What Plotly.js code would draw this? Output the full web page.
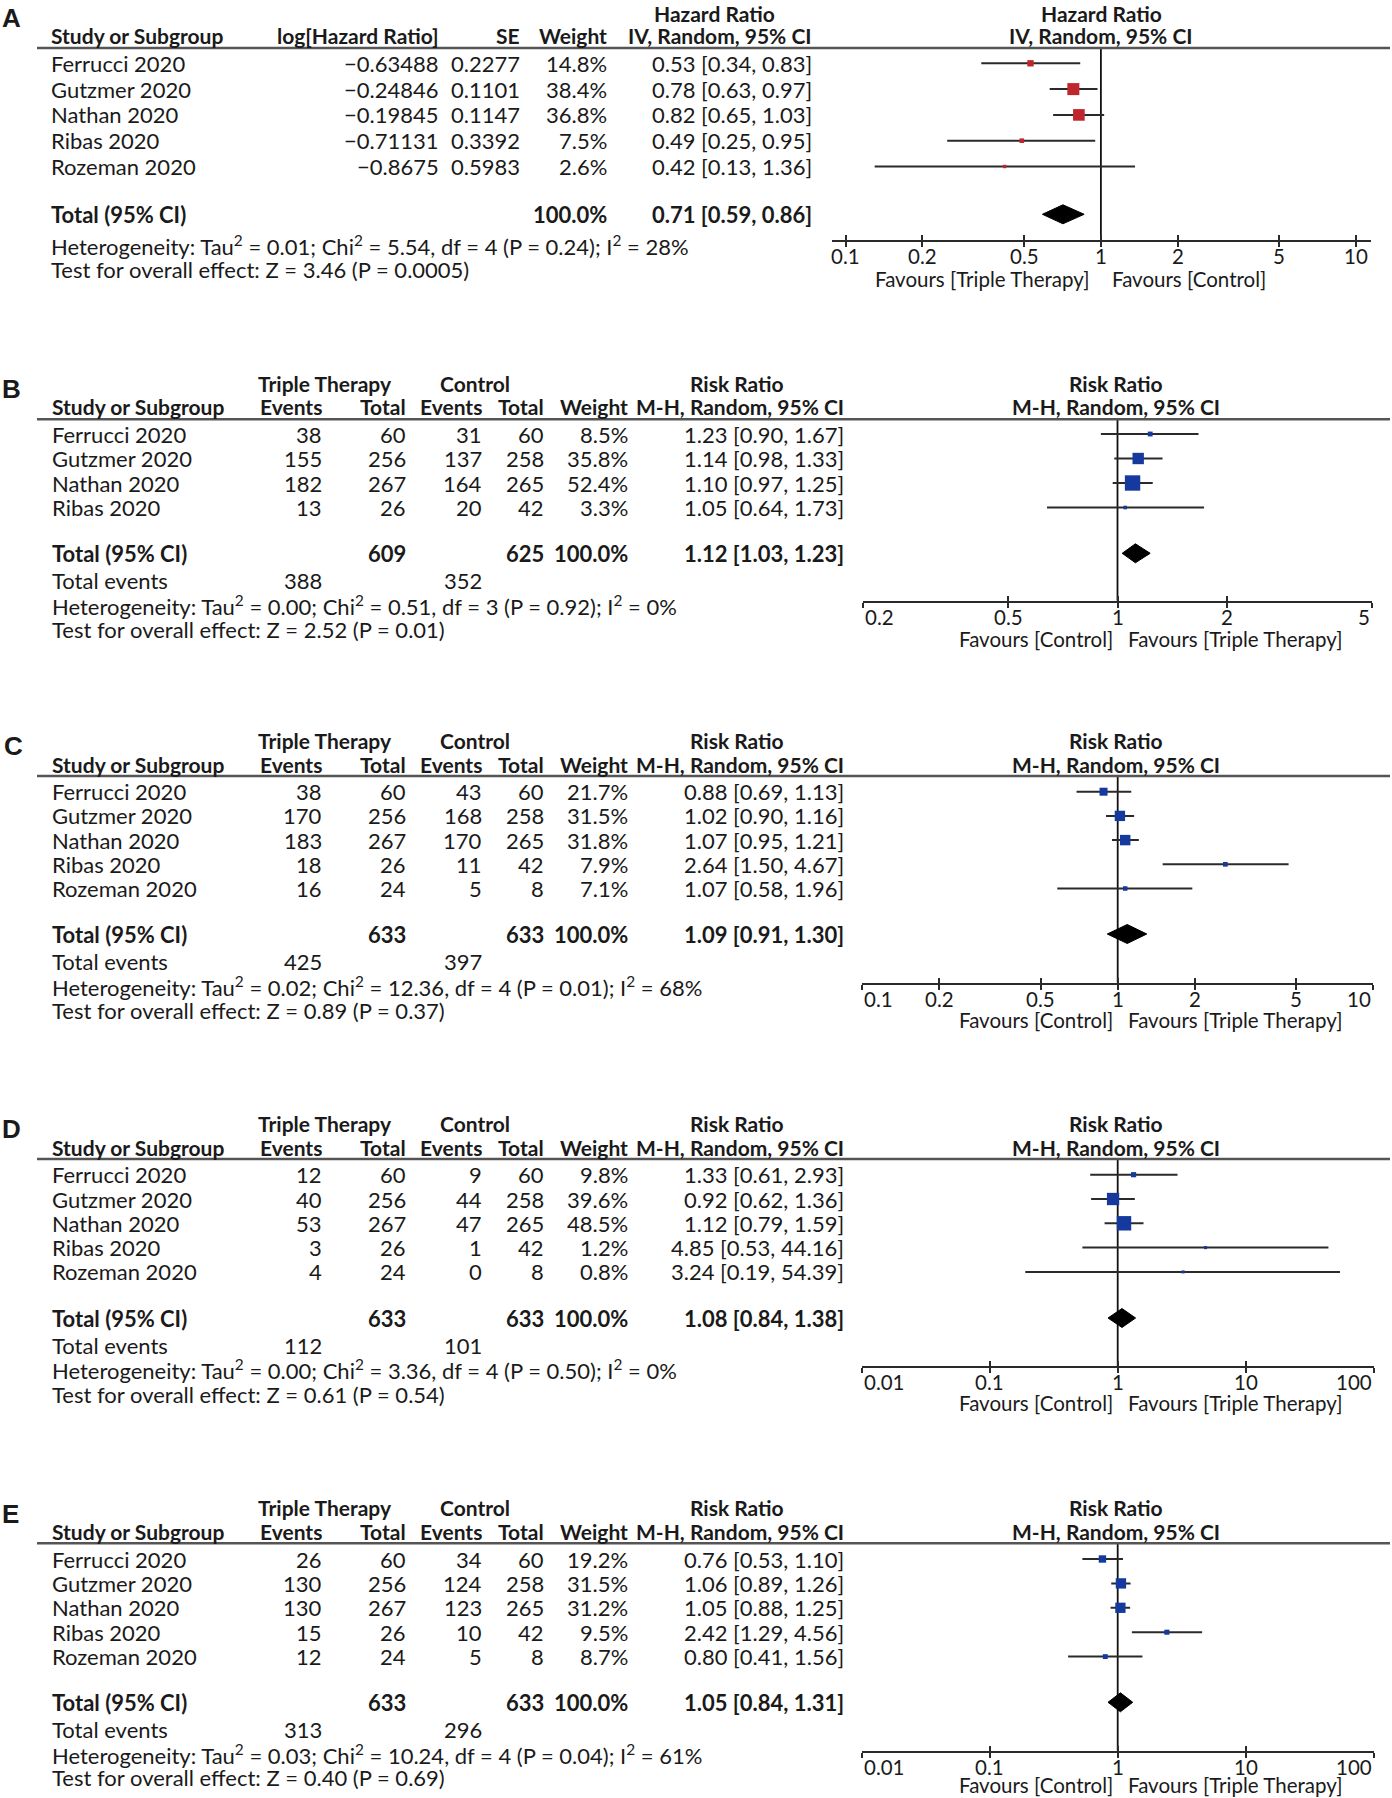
<!DOCTYPE html>
<html><head><meta charset="utf-8">
<script src="https://cdn.plot.ly/plotly-3.0.1.min.js"></script>
<style>html,body{margin:0;padding:0;background:#fff}</style>
</head><body><div id="chart" style="width:1392px;height:1798px"></div>
<script>
// ================= DATA =================
const studies5 = ["Ferrucci 2020","Gutzmer 2020","Nathan 2020","Ribas 2020","Rozeman 2020"];
const studies4 = ["Ferrucci 2020","Gutzmer 2020","Nathan 2020","Ribas 2020"];

// Panel A (Hazard Ratio, IV random)
const logHR_A = ["\u22120.63488","\u22120.24846","\u22120.19845","\u22120.71131","\u22120.8675"];
const se_A = ["0.2277","0.1101","0.1147","0.3392","0.5983"];
const weight_A = [14.8,38.4,36.8,7.5,2.6];
const est_A = [0.53,0.78,0.82,0.49,0.42];
const lo_A = [0.34,0.63,0.65,0.25,0.13];
const hi_A = [0.83,0.97,1.03,0.95,1.36];
const total_A = [0.71,0.59,0.86];
const het_A = "Heterogeneity: Tau<sup>2</sup> = 0.01; Chi<sup>2</sup> = 5.54, df = 4 (P = 0.24); I<sup>2</sup> = 28%";
const test_A = "Test for overall effect: Z = 3.46 (P = 0.0005)";
const ticks_A = [0.1,0.2,0.5,1,2,5,10];

// Panel B
const evTx_B = [38,155,182,13], totTx_B = [60,256,267,26];
const evCt_B = [31,137,164,20], totCt_B = [60,258,265,42];
const weight_B = [8.5,35.8,52.4,3.3];
const est_B = [1.23,1.14,1.10,1.05], lo_B = [0.90,0.98,0.97,0.64], hi_B = [1.67,1.33,1.25,1.73];
const total_B = [1.12,1.03,1.23], n_B = [609,625], events_B = [388,352];
const het_B = "Heterogeneity: Tau<sup>2</sup> = 0.00; Chi<sup>2</sup> = 0.51, df = 3 (P = 0.92); I<sup>2</sup> = 0%";
const test_B = "Test for overall effect: Z = 2.52 (P = 0.01)";
const ticks_B = [0.2,0.5,1,2,5];

// Panel C
const evTx_C = [38,170,183,18,16], totTx_C = [60,256,267,26,24];
const evCt_C = [43,168,170,11,5], totCt_C = [60,258,265,42,8];
const weight_C = [21.7,31.5,31.8,7.9,7.1];
const est_C = [0.88,1.02,1.07,2.64,1.07], lo_C = [0.69,0.90,0.95,1.50,0.58], hi_C = [1.13,1.16,1.21,4.67,1.96];
const total_C = [1.09,0.91,1.30], n_C = [633,633], events_C = [425,397];
const het_C = "Heterogeneity: Tau<sup>2</sup> = 0.02; Chi<sup>2</sup> = 12.36, df = 4 (P = 0.01); I<sup>2</sup> = 68%";
const test_C = "Test for overall effect: Z = 0.89 (P = 0.37)";
const ticks_C = [0.1,0.2,0.5,1,2,5,10];

// Panel D
const evTx_D = [12,40,53,3,4], totTx_D = [60,256,267,26,24];
const evCt_D = [9,44,47,1,0], totCt_D = [60,258,265,42,8];
const weight_D = [9.8,39.6,48.5,1.2,0.8];
const est_D = [1.33,0.92,1.12,4.85,3.24], lo_D = [0.61,0.62,0.79,0.53,0.19], hi_D = [2.93,1.36,1.59,44.16,54.39];
const total_D = [1.08,0.84,1.38], n_D = [633,633], events_D = [112,101];
const het_D = "Heterogeneity: Tau<sup>2</sup> = 0.00; Chi<sup>2</sup> = 3.36, df = 4 (P = 0.50); I<sup>2</sup> = 0%";
const test_D = "Test for overall effect: Z = 0.61 (P = 0.54)";
const ticks_D = [0.01,0.1,1,10,100];

// Panel E
const evTx_E = [26,130,130,15,12], totTx_E = [60,256,267,26,24];
const evCt_E = [34,124,123,10,5], totCt_E = [60,258,265,42,8];
const weight_E = [19.2,31.5,31.2,9.5,8.7];
const est_E = [0.76,1.06,1.05,2.42,0.80], lo_E = [0.53,0.89,0.88,1.29,0.41], hi_E = [1.10,1.26,1.25,4.56,1.56];
const total_E = [1.05,0.84,1.31], n_E = [633,633], events_E = [313,296];
const het_E = "Heterogeneity: Tau<sup>2</sup> = 0.03; Chi<sup>2</sup> = 10.24, df = 4 (P = 0.04); I<sup>2</sup> = 61%";
const test_E = "Test for overall effect: Z = 0.40 (P = 0.69)";
const ticks_E = [0.01,0.1,1,10,100];

// ================= LAYOUT HELPERS =================
const W = 1392, H = 1798;
const FONT = 'Lato, "Liberation Sans", sans-serif';
const FS = 22, FSB = 21, FSAX = 20.5;
const TXT = '#1a1a1a';
const px = x => x / W;
const py = y => 1 - y / H;
const fmt = (a) => a[0].toFixed(2) + " [" + a[1].toFixed(2) + ", " + a[2].toFixed(2) + "]";

const annotations = [], shapes = [], traces = [];
const layout = {
  width: W, height: H, margin: {l:0, r:0, t:0, b:0},
  paper_bgcolor: '#fff', plot_bgcolor: 'rgba(0,0,0,0)', showlegend: false,
  annotations, shapes
};

function txt(t, x, y, anchor, bold, size, family) {
  annotations.push({
    text: bold ? '<b>' + t + '</b>' : t,
    x: px(x), y: py(y), xref: 'paper', yref: 'paper',
    xanchor: anchor, yanchor: 'middle', showarrow: false,
    font: {family: family || FONT, size: size || (bold ? FSB : FS), color: TXT}
  });
}

// Forest panel: k index, geometry g, arrays
function forest(k, g, est, lo, hi, w, tot, ticks, color, insetEnds) {
  const xa = 'x' + (k + 1), ya = 'y' + (k + 1), xo = 'x' + (k + 6);
  const yTopIdx = (g.lineY - g.row0) / g.step;
  const yBotIdx = (g.axisY - g.row0) / g.step;
  const totIdx = (g.totalY - g.row0) / g.step;
  const axCommon = {
    type: 'log', range: g.range, tickvals: ticks, showticklabels: false,
    showgrid: false, zeroline: false, ticklen: 5, tickwidth: 2, tickcolor: '#2a2a2a', fixedrange: true
  };
  layout['xaxis' + (k + 1)] = Object.assign({}, axCommon, {
    domain: [px(g.xDom[0]), px(g.xDom[1])], anchor: ya,
    showline: true, linecolor: '#2a2a2a', linewidth: 2, ticks: 'outside'
  });
  layout['xaxis' + (k + 6)] = Object.assign({}, axCommon, {
    overlaying: xa, anchor: ya, side: 'bottom', showline: false, ticks: 'inside'
  });
  layout['yaxis' + (k + 1)] = {
    domain: [py(g.axisY), py(g.lineY)], anchor: xa,
    range: [yBotIdx, yTopIdx], visible: false, fixedrange: true
  };
  // reference line at 1
  traces.push({x: [1, 1], y: [yTopIdx, yBotIdx], xaxis: xa, yaxis: ya, mode: 'lines',
    line: {color: '#111', width: 1.8}, hoverinfo: 'skip'});
  // pooled diamond
  const d = 9.5 / g.step;
  traces.push({x: [tot[1], tot[0], tot[2], tot[0], tot[1]], y: [totIdx, totIdx - d, totIdx, totIdx + d, totIdx],
    xaxis: xa, yaxis: ya, mode: 'lines', fill: 'toself', fillcolor: '#000',
    line: {color: '#000', width: 1}, hoverinfo: 'skip'});
  // studies
  traces.push({
    x: est, y: est.map((_, i) => i), xaxis: xo, yaxis: ya, mode: 'markers',
    marker: {symbol: 'square', color: color, opacity: 1, size: w.map(v => 2.8 + 0.24 * v), line: {width: 0}},
    error_x: {type: 'data', symmetric: false, array: hi.map((h, i) => h - est[i]),
      arrayminus: lo.map((l, i) => est[i] - l), width: 0, thickness: 2, color: '#2a2a2a'},
    cliponaxis: false, hoverinfo: 'skip'
  });
  // tick labels through the axis scale
  ticks.forEach((t, i) => {
    let anchor = 'center';
    if (insetEnds && i === 0) anchor = 'left';
    if (insetEnds && i === ticks.length - 1) anchor = 'right';
    annotations.push({text: String(t), x: Math.log10(t), xref: xa, y: py(g.axisY + 16), yref: 'paper',
      xanchor: anchor, yanchor: 'middle', showarrow: false, font: {family: FONT, size: FSAX, color: TXT}});
  });
  // header rule
  shapes.push({type: 'line', xref: 'paper', yref: 'paper', x0: px(37), x1: px(1390),
    y0: py(g.lineY), y1: py(g.lineY), line: {color: '#555', width: 2.5}});
}

// ================= PANEL A =================
const gA = {lineY: 48, row0: 63.3, step: 25.8, totalY: 214.3, axisY: 240,
  xDom: [831.5, 1370.8], range: [-1.0552, 1.0572]};
txt('A', 0, 18, 'left', true, 26, '"Liberation Sans", Arial, sans-serif');
txt('Hazard Ratio', 714, 13, 'center', true);
txt('Hazard Ratio', 1101, 13, 'center', true);
txt('Study or Subgroup', 49, 35, 'left', true);
txt('log[Hazard Ratio]', 441, 35, 'right', true);
txt('SE', 522, 35, 'right', true);
txt('Weight', 609, 35, 'right', true);
txt('IV, Random, 95% CI', 814, 35, 'right', true);
txt('IV, Random, 95% CI', 1101, 35, 'center', true);
studies5.forEach((s, i) => {
  const y = gA.row0 + i * gA.step;
  txt(s, 49, y, 'left');
  txt(logHR_A[i], 441, y, 'right');
  txt(se_A[i], 522, y, 'right');
  txt(weight_A[i].toFixed(1) + '%', 609, y, 'right');
  txt(fmt([est_A[i], lo_A[i], hi_A[i]]), 814, y, 'right');
});
txt('Total (95% CI)', 49, gA.totalY, 'left', true, FS);
txt('100.0%', 609, gA.totalY, 'right', true, FS);
txt(fmt(total_A), 814, gA.totalY, 'right', true, FS);
txt(het_A, 49, 245, 'left');
txt(test_A, 49, 269.3, 'left');
forest(0, gA, est_A, lo_A, hi_A, weight_A, total_A, ticks_A, '#c0272d', false);
txt('Favours [Triple Therapy]', 1091, gA.axisY + 39, 'right', false, FSAX);
txt('Favours [Control]', 1110, gA.axisY + 39, 'left', false, FSAX);

// ================= PANELS B-E =================
const panels = [
  {L: 'B', lx: 0, names: studies4, evTx: evTx_B, totTx: totTx_B, evCt: evCt_B, totCt: totCt_B, w: weight_B,
   est: est_B, lo: lo_B, hi: hi_B, tot: total_B, n: n_B, ev: events_B, het: het_B, test: test_B, ticks: ticks_B,
   g: {h1: 383.3, h2: 406.7, lineY: 419.3, row0: 434, step: 24.5, totalY: 553.3, tevY: 580.7, hetY: 605.7, testY: 629.3,
       axisY: 600.7, favY: 639, xDom: [863.3, 1371.7], range: [Math.log10(0.2), Math.log10(5)]}},
  {L: 'C', lx: 2, names: studies5, evTx: evTx_C, totTx: totTx_C, evCt: evCt_C, totCt: totCt_C, w: weight_C,
   est: est_C, lo: lo_C, hi: hi_C, tot: total_C, n: n_C, ev: events_C, het: het_C, test: test_C, ticks: ticks_C,
   g: {h1: 740, h2: 764.3, lineY: 776, row0: 791.7, step: 24.2, totalY: 934, tevY: 961.7, hetY: 986.7, testY: 1010,
       axisY: 982.7, favY: 1020, xDom: [862.4, 1373], range: [-1, 1]}},
  {L: 'D', lx: 0, names: studies5, evTx: evTx_D, totTx: totTx_D, evCt: evCt_D, totCt: totCt_D, w: weight_D,
   est: est_D, lo: lo_D, hi: hi_D, tot: total_D, n: n_D, ev: events_D, het: het_D, test: test_D, ticks: ticks_D,
   g: {h1: 1123, h2: 1147.3, lineY: 1159, row0: 1174.7, step: 24.3, totalY: 1318, tevY: 1345.3, hetY: 1369.7, testY: 1394,
       axisY: 1366.3, favY: 1403, xDom: [861.5, 1373.9], range: [-2, 2]}},
  {L: 'E', lx: 0, names: studies5, evTx: evTx_E, totTx: totTx_E, evCt: evCt_E, totCt: totCt_E, w: weight_E,
   est: est_E, lo: lo_E, hi: hi_E, tot: total_E, n: n_E, ev: events_E, het: het_E, test: test_E, ticks: ticks_E,
   g: {h1: 1507.3, h2: 1531.7, lineY: 1543.3, row0: 1559, step: 24.4, totalY: 1702.3, tevY: 1729.3, hetY: 1754.3, testY: 1777.7,
       axisY: 1750.7, favY: 1785, xDom: [861.5, 1373.9], range: [-2, 2]}}
];

const C = {name: 50, evTx: 324, totTx: 407.5, evCt: 483.5, totCt: 546, w: 630, ci: 845.5};
panels.forEach((p, k) => {
  const g = p.g;
  txt(p.L, p.lx, (g.h1 + g.h2) / 2 - 6, 'left', true, 26, '"Liberation Sans", Arial, sans-serif');
  txt('Triple Therapy', 325, g.h1, 'center', true);
  txt('Control', 475, g.h1, 'center', true);
  txt('Risk Ratio', 737, g.h1, 'center', true);
  txt('Risk Ratio', 1116, g.h1, 'center', true);
  txt('Study or Subgroup', C.name, g.h2, 'left', true);
  txt('Events', C.evTx, g.h2, 'right', true);
  txt('Total', C.totTx, g.h2, 'right', true);
  txt('Events', C.evCt, g.h2, 'right', true);
  txt('Total', C.totCt, g.h2, 'right', true);
  txt('Weight', C.w, g.h2, 'right', true);
  txt('M-H, Random, 95% CI', C.ci, g.h2, 'right', true);
  txt('M-H, Random, 95% CI', 1116, g.h2, 'center', true);
  p.names.forEach((s, i) => {
    const y = g.row0 + i * g.step;
    txt(s, C.name, y, 'left');
    txt(String(p.evTx[i]), C.evTx, y, 'right');
    txt(String(p.totTx[i]), C.totTx, y, 'right');
    txt(String(p.evCt[i]), C.evCt, y, 'right');
    txt(String(p.totCt[i]), C.totCt, y, 'right');
    txt(p.w[i].toFixed(1) + '%', C.w, y, 'right');
    txt(fmt([p.est[i], p.lo[i], p.hi[i]]), C.ci, y, 'right');
  });
  txt('Total (95% CI)', C.name, g.totalY, 'left', true, FS);
  txt(String(p.n[0]), C.totTx, g.totalY, 'right', true, FS);
  txt(String(p.n[1]), C.totCt, g.totalY, 'right', true, FS);
  txt('100.0%', C.w, g.totalY, 'right', true, FS);
  txt(fmt(p.tot), C.ci, g.totalY, 'right', true, FS);
  txt('Total events', C.name, g.tevY, 'left');
  txt(String(p.ev[0]), C.evTx, g.tevY, 'right');
  txt(String(p.ev[1]), C.evCt, g.tevY, 'right');
  txt(p.het, C.name, g.hetY, 'left');
  txt(p.test, C.name, g.testY, 'left');
  forest(k + 1, g, p.est, p.lo, p.hi, p.w, p.tot, p.ticks, '#16399e', true);
  txt('Favours [Control]', 1115, g.favY, 'right', false, FSAX);
  txt('Favours [Triple Therapy]', 1126, g.favY, 'left', false, FSAX);
});

Plotly.newPlot('chart', traces, layout, {staticPlot: true, displayModeBar: false});
</script>
</body></html>
